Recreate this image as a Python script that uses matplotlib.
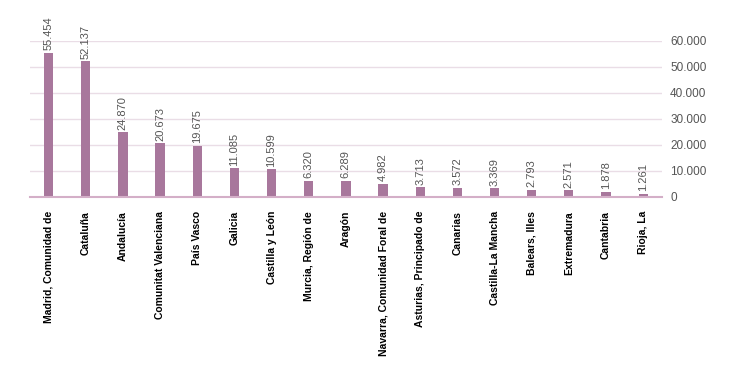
import matplotlib.pyplot as plt
from matplotlib import font_manager

regiones = ["Madrid, Comunidad de", "Cataluña", "Andalucía", "Comunitat Valenciana",
            "País Vasco", "Galicia", "Castilla y León", "Murcia, Región de", "Aragón",
            "Navarra, Comunidad Foral de", "Asturias, Principado de", "Canarias",
            "Castilla-La Mancha", "Balears, Illes", "Extremadura", "Cantabria", "Rioja, La"]
valores = [55454, 52137, 24870, 20673, 19675, 11085, 10599, 6320, 6289,
           4982, 3713, 3572, 3369, 2793, 2571, 1878, 1261]
yticks = [0, 10000, 20000, 30000, 40000, 50000, 60000]

names = {f.name for f in font_manager.fontManager.ttflist}
fam = "Liberation Sans Narrow" if "Liberation Sans Narrow" in names else "Liberation Sans"
plt.rcParams['font.family'] = [fam, 'DejaVu Sans']


def fmt(v):
    return f"{v:,}".replace(",", ".")


fig = plt.figure(figsize=(7.32, 3.81), dpi=100)
ax = fig.add_axes([0.041, 0.483, 0.863, 0.41])

x = range(len(valores))
ax.bar(x, valores, width=0.25, color="#A8779C", zorder=3)
for i, v in zip(x, valores):
    ax.text(i, v + 1000, fmt(v), rotation=90, ha="center", va="bottom",
            fontsize=8, color="#555555", clip_on=False)

ax.set_xlim(-0.5, len(valores) - 0.5)
ax.set_ylim(0, 60000)
ax.set_yticks(yticks)
ax.set_yticklabels([fmt(t) for t in yticks], fontsize=8.5, color="#555555")
ax.yaxis.tick_right()
ax.tick_params(axis="y", length=0, pad=6)
ax.grid(axis="y", color="#EADDE6", linewidth=1, zorder=0)

ax.set_xticks(list(x))
ax.set_xticklabels(regiones, rotation=90, fontsize=7.5, fontweight="bold", va="top")
ax.tick_params(axis="x", length=0, pad=10)

for s in ["top", "left", "right"]:
    ax.spines[s].set_visible(False)
ax.spines["bottom"].set_color("#D4AFC8")
ax.spines["bottom"].set_linewidth(1.5)
ax.spines["bottom"].set_zorder(4)

fig.savefig("out.png", dpi=100)
